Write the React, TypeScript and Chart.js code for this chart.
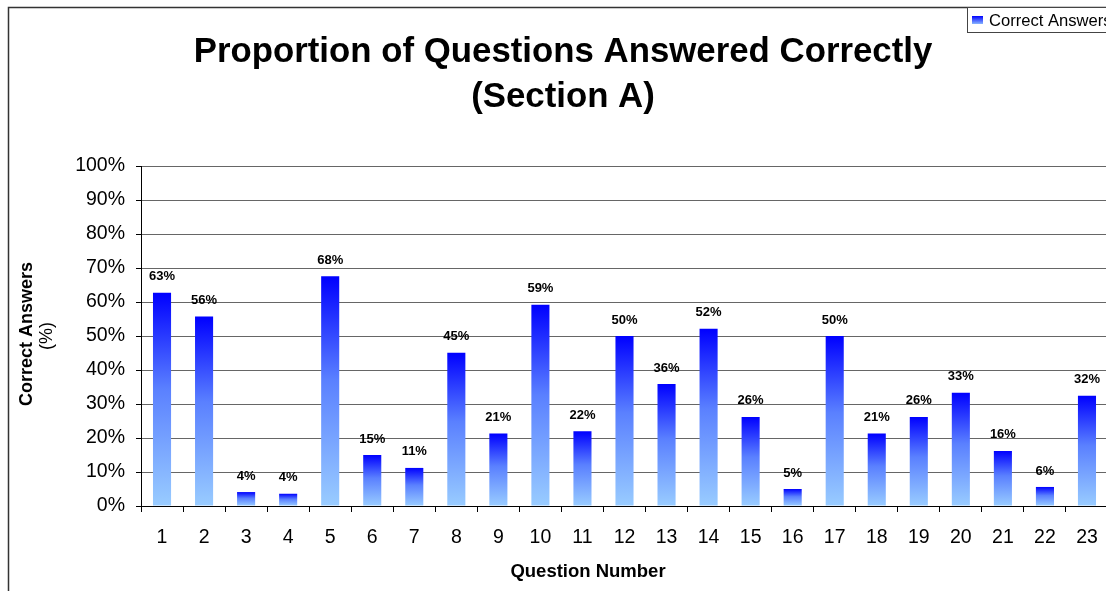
import React, { useEffect, useRef } from 'react';
import { Chart, registerables } from 'chart.js';

Chart.register(...registerables);

const questions = ['1', '2', '3', '4', '5', '6', '7', '8', '9', '10', '11', '12', '13', '14', '15', '16', '17', '18', '19', '20', '21', '22', '23'];
const correctPct = [62.7, 55.7, 4.1, 3.6, 67.6, 15.0, 11.2, 45.1, 21.3, 59.2, 22.0, 50.0, 35.9, 52.1, 26.2, 5.0, 50.0, 21.3, 26.2, 33.3, 16.2, 5.6, 32.4];
const titleLines = ['Proportion of Questions Answered Correctly', '(Section A)'];
const seriesName = 'Correct Answers';
const xTitle = 'Question Number';
const yTitleLines = ['Correct Answers', '(%)'];

const FONT = '"Liberation Sans", Arial, Helvetica, sans-serif';
const CW = 1120;
const CH = 591;

function barGradient(ctx: CanvasRenderingContext2D, top: number, base: number) {
  const g = ctx.createLinearGradient(0, top, 0, base);
  g.addColorStop(0, '#0000ff');
  g.addColorStop(0.45, '#5a80ff');
  g.addColorStop(1, '#99ccff');
  return g;
}

const decorPlugin = {
  id: 'decor',
  beforeDraw(chart: any) {
    const ctx = chart.ctx as CanvasRenderingContext2D;
    ctx.save();
    ctx.fillStyle = '#ffffff';
    ctx.fillRect(0, 0, chart.width, chart.height);
    ctx.strokeStyle = '#333333';
    ctx.lineWidth = 1.5;
    ctx.beginPath();
    ctx.moveTo(8.5, CH);
    ctx.lineTo(8.5, 7.5);
    ctx.lineTo(chart.width, 7.5);
    ctx.stroke();
    ctx.restore();
  },
  afterDatasetsDraw(chart: any) {
    const ctx = chart.ctx as CanvasRenderingContext2D;
    const meta = chart.getDatasetMeta(0);
    const data = chart.data.datasets[0].data as number[];
    ctx.save();
    ctx.fillStyle = '#000000';
    ctx.font = `bold 13px ${FONT}`;
    ctx.textAlign = 'center';
    ctx.textBaseline = 'middle';
    meta.data.forEach((bar: any, i: number) => {
      ctx.fillText(Math.round(data[i]) + '%', bar.x, bar.y - 16);
    });
    ctx.restore();
  },
  afterDraw(chart: any) {
    const ctx = chart.ctx as CanvasRenderingContext2D;
    ctx.save();
    ctx.fillStyle = '#000000';
    ctx.textAlign = 'center';
    ctx.textBaseline = 'middle';
    // main title
    ctx.font = `bold 34.8px ${FONT}`;
    ctx.fillText(titleLines[0], 563, 52);
    ctx.fillText(titleLines[1], 563, 97);
    // x axis title
    ctx.font = `bold 18.5px ${FONT}`;
    ctx.fillText(xTitle, 588, 572);
    // y axis title
    ctx.save();
    ctx.translate(27, 334);
    ctx.rotate(-Math.PI / 2);
    ctx.font = `bold 18px ${FONT}`;
    ctx.fillText(yTitleLines[0], 0, 0);
    ctx.restore();
    ctx.save();
    ctx.translate(47, 336);
    ctx.rotate(-Math.PI / 2);
    ctx.font = `18px ${FONT}`;
    ctx.fillText(yTitleLines[1], 0, 0);
    ctx.restore();
    // legend
    ctx.fillStyle = '#ffffff';
    ctx.fillRect(967, 7, chart.width - 967, 26);
    ctx.strokeStyle = '#444444';
    ctx.lineWidth = 1;
    ctx.strokeRect(967.5, 7.5, chart.width, 25);
    const mg = ctx.createLinearGradient(0, 16, 0, 25);
    mg.addColorStop(0, '#0000ff');
    mg.addColorStop(1, '#99ccff');
    ctx.fillStyle = mg;
    ctx.fillRect(972, 16, 11, 8);
    ctx.fillStyle = '#000000';
    ctx.textAlign = 'left';
    ctx.font = `16.6px ${FONT}`;
    ctx.fillText(seriesName, 989, 21);
    ctx.restore();
  },
};

export default function App() {
  const canvasRef = useRef<HTMLCanvasElement | null>(null);

  useEffect(() => {
    if (!canvasRef.current) return;
    const chart = new Chart(canvasRef.current, {
      type: 'bar',
      data: {
        labels: questions,
        datasets: [
          {
            label: seriesName,
            data: correctPct,
            backgroundColor: (c: any) => {
              const ch = c.chart;
              const y = ch.scales && ch.scales.y;
              if (!y || c.type !== 'data' || !ch.chartArea) return '#4466ff';
              const top = y.getPixelForValue(c.raw as number);
              const base = y.getPixelForValue(0);
              return barGradient(ch.ctx, top, base);
            },
            borderWidth: 0,
            categoryPercentage: 1,
            barPercentage: 0.43,
          },
        ],
      },
      options: {
        responsive: false,
        animation: false,
        layout: { padding: { left: 0, top: 166, right: CW - 1108, bottom: 0 } },
        plugins: {
          legend: { display: false },
          title: { display: false },
          tooltip: { enabled: false },
        },
        scales: {
          x: {
            grid: { display: true, drawOnChartArea: false, drawTicks: true, tickLength: 6, tickColor: '#000000', offset: true },
            border: { color: '#000000', width: 1 },
            ticks: { font: { family: FONT, size: 19.5 }, color: '#000000', padding: 14, maxRotation: 0, autoSkip: false },
            afterFit: (s: any) => {
              s.height = 85;
            },
          },
          y: {
            min: 0,
            max: 100,
            ticks: {
              stepSize: 10,
              callback: (v: any) => v + '%',
              font: { family: FONT, size: 19.5 },
              color: '#000000',
              padding: 11,
            },
            grid: { color: '#666666', tickLength: 5, tickColor: '#000000' },
            border: { color: '#000000', width: 1 },
            afterFit: (s: any) => {
              s.width = 141;
            },
          },
        },
      },
      plugins: [decorPlugin],
    });
    return () => chart.destroy();
  }, []);

  return (
    <div style={{ position: 'fixed', left: 0, top: 0, width: 1106, height: CH, overflow: 'hidden', background: '#fff' }}>
      <canvas ref={canvasRef} width={CW} height={CH} style={{ display: 'block', width: CW, height: CH }} />
    </div>
  );
}
